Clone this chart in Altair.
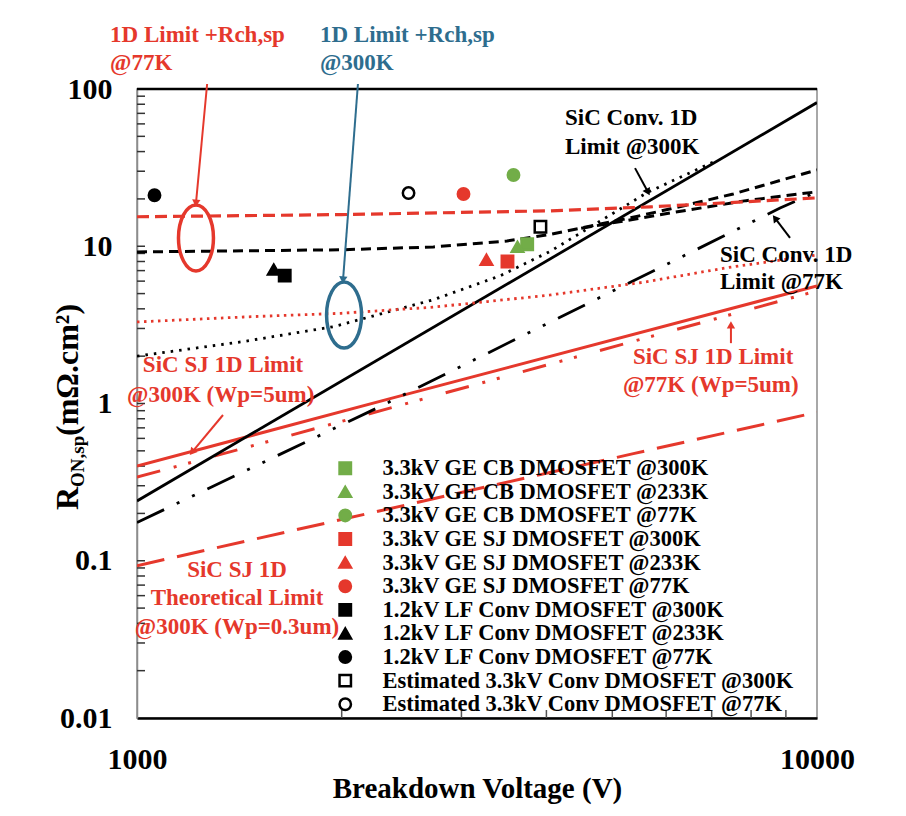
import math
import altair as alt
import pandas as pd

FONT = "Liberation Serif"
RED = "#e5382c"
GREEN = "#72ad48"
BLUE = "#2e6d8e"
BLACK = "#000000"
W, H = 680, 629

# ---------------- data ----------------
conv300_v = [1000, 10000]
conv300_r = [0.24, 82.0]
conv300_rch_v = [1000, 1436, 1945, 2728, 3423, 4055, 5633, 7146]
conv300_rch_r = [2.0, 2.48, 3.08, 4.57, 6.5, 9.3, 22.0, 35.4]
conv77_v = [1000, 2259, 8825, 10000]
conv77_r = [0.175, 0.94, 17.5, 22.2]
conv77_rch_v = [1000, 2000, 2728, 3500, 4055, 5256, 6094, 7531, 10000]
conv77_rch_r = [9.2, 9.5, 9.9, 10.8, 11.9, 15.0, 17.3, 21.5, 30.6]
conv77_rch_b_v = [4500, 5256, 6200, 7864, 10000]
conv77_rch_b_r = [13.0, 14.6, 16.5, 19.5, 22.2]
sj300_rch_v = [1000, 1436, 2000, 2728, 3277, 4055, 5550, 7366, 10000]
sj300_rch_r = [3.3, 3.55, 3.75, 4.1, 4.45, 4.9, 5.9, 7.3, 8.8]
sj77_rch_v = [1000, 2000, 4055, 5688, 10000]
sj77_rch_r = [15.4, 15.9, 16.8, 17.8, 20.3]
sj300_v = [1000, 2425, 10000]
sj300_r = [0.40, 1.11, 5.6]
sj77_v = [1000, 1666, 10000]
sj77_r = [0.34, 0.62, 5.2]
sj_theory_v = [1000, 5370, 10000]
sj_theory_r = [0.093, 0.48, 0.88]

series = [
    "3.3kV GE CB DMOSFET @300K",
    "3.3kV GE CB DMOSFET @233K",
    "3.3kV GE CB DMOSFET @77K",
    "3.3kV GE SJ DMOSFET @300K",
    "3.3kV GE SJ DMOSFET @233K",
    "3.3kV GE SJ DMOSFET @77K",
    "1.2kV LF Conv DMOSFET @300K",
    "1.2kV LF Conv DMOSFET @233K",
    "1.2kV LF Conv DMOSFET @77K",
    "Estimated 3.3kV Conv DMOSFET @300K",
    "Estimated 3.3kV Conv DMOSFET @77K",
]
pt_v = [3748, 3627, 3578, 3506, 3265, 3021, 1649, 1589, 1061, 3920, 2508]
pt_r = [10.3, 9.9, 28.4, 8.0, 8.2, 21.5, 6.5, 7.1, 21.1, 13.3, 21.8]
shapes = ["square", "triangle-up", "circle"] * 3 + ["square", "circle"]
fills = [GREEN] * 3 + [RED] * 3 + [BLACK] * 3 + ["white", "white"]
strokes = [GREEN] * 3 + [RED] * 3 + [BLACK] * 5

x_ticks = [2000, 3000, 4000, 5000, 6000, 7000, 8000, 9000]
y_ticks = [m * 10.0 ** e for e in range(-2, 2) for m in range(1, 10)][1:]

# annotations (data coordinates)
ell_v = [1221, 2016]
ell_r = [11.3, 3.65]
ell_c = [RED, BLUE]

arr_v1 = [1268, 2113, 5400, 9127, 7472, 1338]
arr_r1 = [107.6, 107.6, 31.4, 11.3, 2.42, 0.845]
arr_v2 = [1221, 2009, 5642, 8675, 7472, 1205]
arr_r2 = [18.8, 6.1, 22.1, 15.1, 3.16, 0.49]
arr_c = [RED, BLUE, BLACK, BLACK, RED, RED]

txt = ["1D Limit +Rch,sp", "@77K", "1D Limit +Rch,sp", "@300K",
       "SiC Conv. 1D", "Limit @300K", "SiC Conv. 1D", "Limit @77K",
       "SiC SJ 1D Limit", "@77K  (Wp=5um)", "SiC SJ 1D Limit", "@300K  (Wp=5um)"]
txt_v = [913, 913, 1858, 1858, 4260, 4260, 7200, 7200, 5362, 5184, 1020, 967]
txt_r = [220, 146, 220, 146, 65.4, 42.8, 8.8, 5.93, 1.976, 1.311, 1.757, 1.133]
txt_c = [RED, RED, BLUE, BLUE, BLACK, BLACK, BLACK, BLACK, RED, RED, RED, RED]

ctxt = ["SiC SJ 1D", "Theoretical Limit", "@300K (Wp=0.3um)"]
ctxt_v = [1403, 1403, 1403]
ctxt_r = [0.0874, 0.058, 0.0379]

# ---------------- helpers ----------------
xs = alt.Scale(type="log", domain=[1000, 10000])
ys = alt.Scale(type="log", domain=[0.01, 100])
xaxis = alt.Axis(values=[1000, 10000], format="d", title="Breakdown Voltage (V)",
                 titleFont=FONT, titleFontSize=29, titleFontWeight="bold", titleColor="black",
                 labelFont=FONT, labelFontSize=30, labelFontWeight="bold", labelColor="black",
                 ticks=False, domainColor="black", domainWidth=2.5, labelPadding=26,
                 titlePadding=0, grid=False, labelFlush=False)
yaxis = alt.Axis(values=[0.01, 0.1, 1, 10, 100], format="~g", title=None,
                 labelFont=FONT, labelFontSize=30, labelFontWeight="bold", labelColor="black",
                 ticks=False, domainColor="#8c8c8c", domainWidth=1.5, labelPadding=25,
                 grid=False, labelFlush=False)


def X(f):
    return alt.X(f"{f}:Q", scale=xs, axis=xaxis)


def Y(f):
    return alt.Y(f"{f}:Q", scale=ys, axis=yaxis)


def line(v, r, color, dash=None, width=2.5):
    kw = dict(color=color, strokeWidth=width, clip=True)
    if dash:
        kw["strokeDash"] = dash
    return alt.Chart(pd.DataFrame({"V": v, "R": r})).mark_line(**kw).encode(x=X("V"), y=Y("R"))


def px(v):
    return W * math.log10(v / 1000)


def py(r):
    return H * (2 - math.log10(r)) / 4


one = alt.Data(values=[{}])
layers = []

# frame top
layers.append(alt.Chart(one).mark_rule(color="black", strokeWidth=2.5).encode(
    x=alt.value(0), x2=alt.value(W), y=alt.value(0)))
# inner ticks
layers.append(alt.Chart(pd.DataFrame({"R": y_ticks})).mark_rule(color="#333", strokeWidth=1.5).encode(
    y=Y("R"), x=alt.value(0), x2=alt.value(8)))
layers.append(alt.Chart(pd.DataFrame({"V": x_ticks})).mark_rule(color="#555", strokeWidth=1.5).encode(
    x=X("V"), y=alt.value(H), y2=alt.value(H - 8)))

# limit lines
layers += [
    line(sj_theory_v, sj_theory_r, RED, [28, 13], 3),
    line(sj77_v, sj77_r, RED, [24, 14, 3, 12, 3, 24], 3),
    line(sj300_v, sj300_r, RED, None, 3),
    line(conv77_v, conv77_r, BLACK, [30, 14, 3, 14, 3, 14], 2.8),
    line(conv300_v, conv300_r, BLACK, None, 2.8),
    line(conv300_rch_v, conv300_rch_r, BLACK, [2.5, 6], 2.8),
    line(sj300_rch_v, sj300_rch_r, RED, [2.5, 4.5], 2.8),
    line(conv77_rch_b_v, conv77_rch_b_r, BLACK, [10, 6], 3),
    line(conv77_rch_v, conv77_rch_r, BLACK, [10, 6], 3),
    line(sj77_rch_v, sj77_rch_r, RED, [12, 6], 3.2),
]

# data points with legend
leg = alt.Legend(title=None, orient="none", legendX=197, legendY=368, labelFont=FONT,
                 labelFontSize=22.5, labelFontWeight="bold", labelColor="black",
                 symbolSize=130, symbolStrokeWidth=2.5, labelOffset=26, rowPadding=0.6,
                 labelLimit=600, padding=0)
pts = pd.DataFrame({"s": series, "V": pt_v, "R": pt_r})
layers.append(alt.Chart(pts).mark_point(size=130, strokeWidth=2.5, opacity=1, fillOpacity=1).encode(
    x=X("V"), y=Y("R"),
    shape=alt.Shape("s:N", scale=alt.Scale(domain=series, range=shapes), legend=leg),
    fill=alt.Fill("s:N", scale=alt.Scale(domain=series, range=fills), legend=leg),
    stroke=alt.Stroke("s:N", scale=alt.Scale(domain=series, range=strokes), legend=leg),
))

# ellipses
ELL = ("M0,-1 C0.29,-1 0.53,-0.55 0.53,0 C0.53,0.55 0.29,1 0,1 "
       "C-0.29,1 -0.53,0.55 -0.53,0 C-0.53,-0.55 -0.29,-1 0,-1 Z")
layers.append(alt.Chart(pd.DataFrame({"V": ell_v, "R": ell_r, "c": ell_c})).mark_point(
    shape=ELL, size=4356, filled=False, strokeWidth=3.5, opacity=1).encode(
    x=X("V"), y=Y("R"), color=alt.Color("c:N", scale=None)))

# arrows
ang = []
for a, b, c, d in zip(arr_v1, arr_r1, arr_v2, arr_r2):
    dx = px(c) - px(a)
    dy = py(d) - py(b)
    ang.append(math.degrees(math.atan2(dx, -dy)) % 360)
adf = pd.DataFrame({"V1": arr_v1, "R1": arr_r1, "V2": arr_v2, "R2": arr_r2, "c": arr_c, "a": ang})
layers.append(alt.Chart(adf).mark_rule(strokeWidth=2).encode(
    x=X("V1"), y=Y("R1"), x2="V2", y2="R2", color=alt.Color("c:N", scale=None)))
layers.append(alt.Chart(adf).mark_point(shape="triangle-up", filled=True, size=70, opacity=1).encode(
    x=X("V2"), y=Y("R2"), angle=alt.Angle("a:Q", scale=None), color=alt.Color("c:N", scale=None)))

# annotation texts
layers.append(alt.Chart(pd.DataFrame({"t": txt, "V": txt_v, "R": txt_r, "c": txt_c})).mark_text(
    font=FONT, fontWeight="bold", fontSize=23, align="left", baseline="middle").encode(
    x=X("V"), y=Y("R"), text="t:N", color=alt.Color("c:N", scale=None)))
layers.append(alt.Chart(pd.DataFrame({"t": ctxt, "V": ctxt_v, "R": ctxt_r})).mark_text(
    font=FONT, fontWeight="bold", fontSize=23, align="center", baseline="middle", color=RED).encode(
    x=X("V"), y=Y("R"), text="t:N"))

# y axis title with subscript
for t, yy, xx, fs in [("R", 421, -59, 32), ("ON,sp", 398, -53, 19), ("(mΩ.cm²)", 347, -59, 32)]:
    layers.append(alt.Chart(one).mark_text(
        font=FONT, fontWeight="bold", fontSize=fs, angle=270, align="left",
        baseline="alphabetic", color="black").encode(
        x=alt.value(xx), y=alt.value(yy), text=alt.value(t)))

chart = alt.layer(*layers).properties(
    width=W, height=H, autosize="none",
    padding={"left": 129, "top": 81, "right": 70, "bottom": 90},
).configure_view(stroke="#8c8c8c", strokeWidth=1.5)

chart.save("out.html", embed_options={"renderer": "svg", "actions": False})
